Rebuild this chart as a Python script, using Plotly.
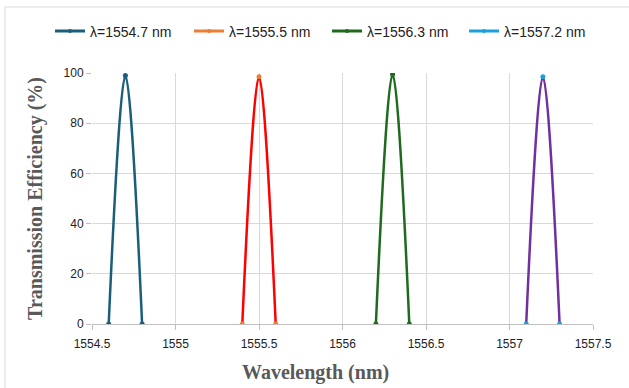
import plotly.graph_objects as go

series_names = ["λ=1554.7 nm", "λ=1555.5 nm", "λ=1556.3 nm", "λ=1557.2 nm"]
x_vals = [
    [1554.6, 1554.7, 1554.8],
    [1555.4, 1555.5, 1555.6],
    [1556.2, 1556.3, 1556.4],
    [1557.1, 1557.2, 1557.3],
]
y_vals = [
    [0, 99, 0],
    [0, 98.5, 0],
    [0, 99.5, 0],
    [0, 98.5, 0],
]
line_colors = ["#1B5E7B", "#FF0000", "#1E6B1E", "#7030A0"]
marker_colors = ["#1B5E7B", "#ED7D31", "#1E6B1E", "#1AA0DC"]
legend_colors = ["#1B5E7B", "#ED7D31", "#1E6B1E", "#1AA0DC"]
legend_ids = ["legend", "legend2", "legend3", "legend4"]
legend_left_px = [58, 197, 335, 472]

fig = go.Figure()
for name, xs, ys, lc, mc in zip(series_names, x_vals, y_vals, line_colors, marker_colors):
    fig.add_trace(go.Scatter(
        x=xs, y=ys, mode="lines+markers", showlegend=False,
        line=dict(color=lc, width=2.5, shape="spline", smoothing=1),
        marker=dict(color=mc, size=5),
    ))
for name, lg, lid in zip(series_names, legend_colors, legend_ids):
    fig.add_trace(go.Scatter(
        x=[None], y=[None], mode="lines+markers", name=name, legend=lid,
        line=dict(color=lg, width=3), marker=dict(color=lg, size=4),
    ))

legend_layout = {}
for lid, px in zip(legend_ids, legend_left_px):
    legend_layout[lid] = dict(
        orientation="h", x=(px - 8) / 629, xanchor="left", xref="container",
        y=0.96, yref="container", yanchor="top",
        font=dict(size=14, color="#222222"), itemwidth=30,
        bgcolor="rgba(0,0,0,0)",
    )

fig.update_layout(
    width=629, height=388,
    margin=dict(l=92, r=36, t=73, b=64),
    paper_bgcolor="white", plot_bgcolor="white",
    font=dict(family="Liberation Sans", size=12, color="#333333"),
    shapes=[dict(type="rect", xref="paper", yref="paper",
                 x0=-87 / 501, x1=(629 - 92 + 5) / 501,
                 y0=-(388 - 324 + 5) / 251, y1=(324 - 7) / 251,
                 line=dict(color="#D9D9D9", width=1), layer="below")],
    annotations=[dict(text="<b>Wavelength (nm)</b>", xref="paper", yref="paper",
                      x=(315 - 92) / 501, y=-(372 - 324) / 251,
                      xanchor="center", yanchor="middle", showarrow=False,
                      font=dict(family="Liberation Serif", size=20, color="#595959"))],
    **legend_layout,
)
fig.update_xaxes(
    range=[1554.5, 1557.5], dtick=0.5, tick0=1554.5, tickformat=".1~f",
    showgrid=True, gridcolor="#D9D9D9", gridwidth=1,
    showline=True, linecolor="#BFBFBF", linewidth=1,
    ticks="outside", ticklen=5, tickcolor="#BFBFBF",
    ticklabelstandoff=4,
    tickfont=dict(size=12, color="#222222"),
    zeroline=False,
)
fig.update_yaxes(
    range=[0, 100], dtick=20,
    showgrid=True, gridcolor="#D9D9D9", gridwidth=1,
    showline=False,
    ticks="outside", ticklen=5, tickcolor="#BFBFBF",
    tickfont=dict(size=12, color="#222222"),
    zeroline=False,
    title=dict(text="<b>Transmission Efficiency (%)</b>", standoff=15,
               font=dict(family="Liberation Serif", size=20, color="#595959")),
)
fig.write_html("out.html")
